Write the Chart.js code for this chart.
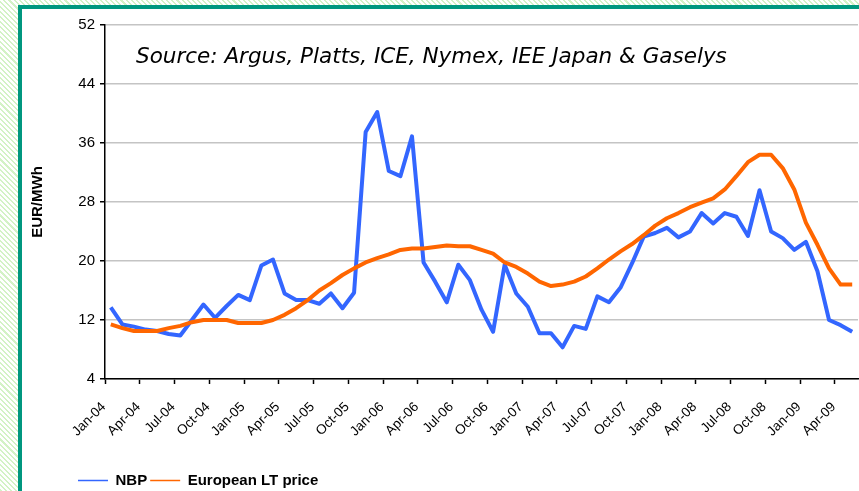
<!DOCTYPE html>
<html>
<head>
<meta charset="utf-8">
<script src="https://cdn.jsdelivr.net/npm/chart.js@4.4.1/dist/chart.umd.min.js"></script>
<style>
  html, body { margin: 0; padding: 0; }
  body {
    width: 859px; height: 491px; overflow: hidden; position: relative;
    background: repeating-linear-gradient(45deg, #d3f2c6 0 1.5px, #ffffff 1.5px 3.6px);
  }
  #panel {
    position: absolute; left: 18px; top: 5px; width: 860px; height: 500px;
    background: #fff; border-left: 4px solid #00977f; border-top: 4px solid #00977f;
  }
  #wrap { position: absolute; left: 22px; top: 9px; width: 837px; height: 482px; }
  #source {
    position: absolute; left: 136px; top: 45px; color: #000; white-space: nowrap;
    font: italic 21.5px "DejaVu Sans", Verdana, sans-serif; line-height: 1;
  }
</style>
</head>
<body>
<div id="panel"></div>
<div id="wrap"><canvas id="chart" width="837" height="482"></canvas></div>
<div id="source">Source: Argus, Platts, ICE, Nymex, IEE Japan &amp; Gaselys</div>
<script>
// monthly categories Jan-04 .. May-09
const months = [
  'Jan-04','Feb-04','Mar-04','Apr-04','May-04','Jun-04','Jul-04','Aug-04','Sep-04','Oct-04','Nov-04','Dec-04',
  'Jan-05','Feb-05','Mar-05','Apr-05','May-05','Jun-05','Jul-05','Aug-05','Sep-05','Oct-05','Nov-05','Dec-05',
  'Jan-06','Feb-06','Mar-06','Apr-06','May-06','Jun-06','Jul-06','Aug-06','Sep-06','Oct-06','Nov-06','Dec-06',
  'Jan-07','Feb-07','Mar-07','Apr-07','May-07','Jun-07','Jul-07','Aug-07','Sep-07','Oct-07','Nov-07','Dec-07',
  'Jan-08','Feb-08','Mar-08','Apr-08','May-08','Jun-08','Jul-08','Aug-08','Sep-08','Oct-08','Nov-08','Dec-08',
  'Jan-09','Feb-09','Mar-09','Apr-09','May-09'
];

// EUR/MWh
const nbp = [
  13.7, 11.4, 11.1, 10.7, 10.5, 10.1, 9.9, 12.0, 14.1, 12.3,
  13.9, 15.4, 14.7, 19.4, 20.2, 15.6, 14.7, 14.7, 14.2, 15.6,
  13.6, 15.7, 37.5, 40.2, 32.2, 31.5, 36.9, 19.8, 17.2, 14.4,
  19.5, 17.4, 13.4, 10.4, 19.5, 15.6, 13.8, 10.2, 10.2, 8.3,
  11.2, 10.8, 15.2, 14.4, 16.4, 19.7, 23.3, 23.8, 24.5, 23.2,
  24.0, 26.5, 25.1, 26.5, 26.0, 23.4, 29.6, 24.0, 23.1, 21.5,
  22.6, 18.6, 12.0, 11.3, 10.4
];
const europeanLT = [
  11.4, 10.9, 10.5, 10.5, 10.5, 10.9, 11.2, 11.7, 12.0, 12.0,
  12.0, 11.6, 11.6, 11.6, 12.0, 12.7, 13.6, 14.7, 16.0, 17.0,
  18.1, 19.0, 19.8, 20.4, 20.9, 21.5, 21.7, 21.7, 21.9, 22.1,
  22.0, 22.0, 21.5, 21.0, 19.8, 19.2, 18.3, 17.2, 16.6, 16.8,
  17.2, 17.9, 19.0, 20.2, 21.3, 22.3, 23.5, 24.8, 25.8, 26.5,
  27.3, 27.9, 28.5, 29.7, 31.5, 33.4, 34.4, 34.4, 32.6, 29.7,
  25.2, 22.2, 19.0, 16.8, 16.8
];

const xTickLabels = [
  'Jan-04','Apr-04','Jul-04','Oct-04','Jan-05','Apr-05','Jul-05','Oct-05',
  'Jan-06','Apr-06','Jul-06','Oct-06','Jan-07','Apr-07','Jul-07','Oct-07',
  'Jan-08','Apr-08','Jul-08','Oct-08','Jan-09','Apr-09'
];
const yTicks = [4, 12, 20, 28, 36, 44, 52];

const FONT = '"Liberation Sans", Arial, sans-serif';

// legend sits further right / lower than chart.js puts it
const legendPlacement = {
  id: 'legendPlacement',
  afterLayout(chart) {
    const lg = chart.legend;
    lg.left += 53; lg.right += 53;
    lg.top += 7; lg.bottom += 7;
  }
};

new Chart(document.getElementById('chart'), {
  type: 'line',
  data: {
    labels: months,
    datasets: [
      {
        label: 'NBP',
        data: nbp,
        borderColor: '#3366ff',
        backgroundColor: '#3366ff',
        borderWidth: 4,
        pointRadius: 0,
        tension: 0,
        borderJoinStyle: 'round',
        order: 1
      },
      {
        label: 'European LT price',
        data: europeanLT,
        borderColor: '#ff6600',
        backgroundColor: '#ff6600',
        borderWidth: 4,
        pointRadius: 0,
        tension: 0,
        borderJoinStyle: 'round',
        order: 0
      }
    ]
  },
  options: {
    responsive: false,
    animation: false,
    devicePixelRatio: 1,
    layout: { padding: { top: 16, right: 1, left: 0, bottom: 0 } },
    scales: {
      x: {
        offset: true,
        afterFit: s => { s.height = 84; s.paddingLeft = 0; s.paddingRight = 0; },
        grid: {
          offset: true,
          drawOnChartArea: false,
          tickLength: 5,
          tickWidth: 1.5,
          tickColor: ctx => xTickLabels.includes(months[ctx.index]) ? '#000' : 'rgba(0,0,0,0)'
        },
        border: { color: '#000', width: 1.5 },
        ticks: {
          autoSkip: false,
          minRotation: 45,
          maxRotation: 45,
          padding: 15,
          labelOffset: -7,
          color: '#000',
          font: { family: FONT, size: 13.5 },
          callback: (v, i) => xTickLabels.includes(months[i]) ? months[i] : ''
        }
      },
      y: {
        min: 4,
        max: 52,
        afterBuildTicks: s => { s.ticks = yTicks.map(v => ({ value: v })); },
        afterFit: s => { s.width = 83; },
        grid: { color: '#c4c4c4', lineWidth: 1.5, tickColor: '#000', tickLength: 5, tickWidth: 1.5 },
        border: { color: '#000', width: 1.5 },
        ticks: { color: '#000', padding: 5, font: { family: FONT, size: 15 } },
        title: {
          display: true,
          text: 'EUR/MWh',
          color: '#000',
          font: { family: FONT, size: 15, weight: 'bold' },
          padding: { top: 6.5, bottom: 0 }
        }
      }
    },
    plugins: {
      tooltip: { enabled: false },
      legend: {
        position: 'bottom',
        align: 'start',
        labels: {
          usePointStyle: true,
          pointStyle: 'line',
          pointStyleWidth: 30,
          padding: 3,
          color: '#000',
          font: { family: FONT, size: 15, weight: 'bold' },
          sort: (a, b) => a.datasetIndex - b.datasetIndex,
          generateLabels(chart) {
            const items = Chart.defaults.plugins.legend.labels.generateLabels(chart);
            items.forEach(it => { it.lineWidth = 1.5; });
            return items;
          }
        }
      }
    }
  },
  plugins: [legendPlacement]
});
</script>
</body>
</html>
